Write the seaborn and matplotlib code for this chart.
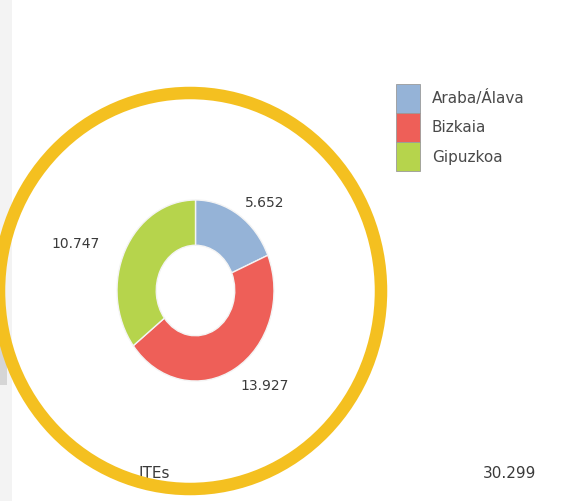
import matplotlib
matplotlib.use("Agg")
import matplotlib.pyplot as plt
import seaborn as sns
from matplotlib.patches import Ellipse, Rectangle, Patch

# data
regions = ["Araba/Álava", "Bizkaia", "Gipuzkoa"]
values = [5652, 13927, 10747]
value_labels = ["5.652", "13.927", "10.747"]
category = "ITEs"
total_label = "30.299"
colors = ["#95B3D7", "#EE5F58", "#B6D44C"]

sns.set_theme(style="white")
plt.rcParams['font.family'] = ['DejaVu Sans']

W, H = 562, 501
fig = plt.figure(figsize=(W / 100, H / 100), dpi=100)
fig.patch.set_facecolor("white")

# background axes in pixel coords
ax = fig.add_axes([0, 0, 1, 1])
ax.set_xlim(0, W)
ax.set_ylim(H, 0)
ax.axis("off")

# faint left border strip + small grey box
ax.add_patch(Rectangle((0, 0), 12, H, color="#F3F3F3", lw=0, zorder=0))
ax.add_patch(Rectangle((0, 335), 7, 50, color="#D5D5D5", lw=0, zorder=0))

# donut in its own axes (slightly taller than wide, like the original)
x0, x1, y0, y1 = 117, 274, 200, 381
pax = fig.add_axes([x0 / W, 1 - y1 / H, (x1 - x0) / W, (y1 - y0) / H])
wedges, _ = pax.pie(values, colors=colors, startangle=90, counterclock=False,
                    radius=1, wedgeprops=dict(width=0.5, edgecolor="#F4F4F4", linewidth=1))
pax.set_aspect("auto")
pax.set_xlim(-1, 1)
pax.set_ylim(-1, 1)
pax.axis("off")

# value labels
txt = dict(color="#3A3A3A", fontsize=10, fontfamily="DejaVu Sans")
ax.text(245, 203, value_labels[0], ha="left", va="center", **txt)
ax.text(240, 386, value_labels[1], ha="left", va="center", **txt)
ax.text(51, 244, value_labels[2], ha="left", va="center", **txt)

bot = dict(txt, fontsize=11)
ax.text(138, 473, category, ha="left", va="center", **bot)
ax.text(483, 473, total_label, ha="left", va="center", **bot)

# yellow highlight circle
ax.add_patch(Ellipse((190, 291), 382, 396, fill=False, edgecolor="#F4C020", lw=9, zorder=5))

# legend
handles = [Patch(facecolor=c, edgecolor="#9A9A9A", linewidth=0.6) for c in colors]
fig.legend(handles, regions, loc="upper left", bbox_to_anchor=(384 / W, 1 - 72 / H),
           frameon=False, fontsize=11, handlelength=1.57, handleheight=2.55,
           labelspacing=0, handletextpad=0.75, borderpad=0.3, labelcolor="#4A4A4A")

fig.savefig("out.png", dpi=100)
